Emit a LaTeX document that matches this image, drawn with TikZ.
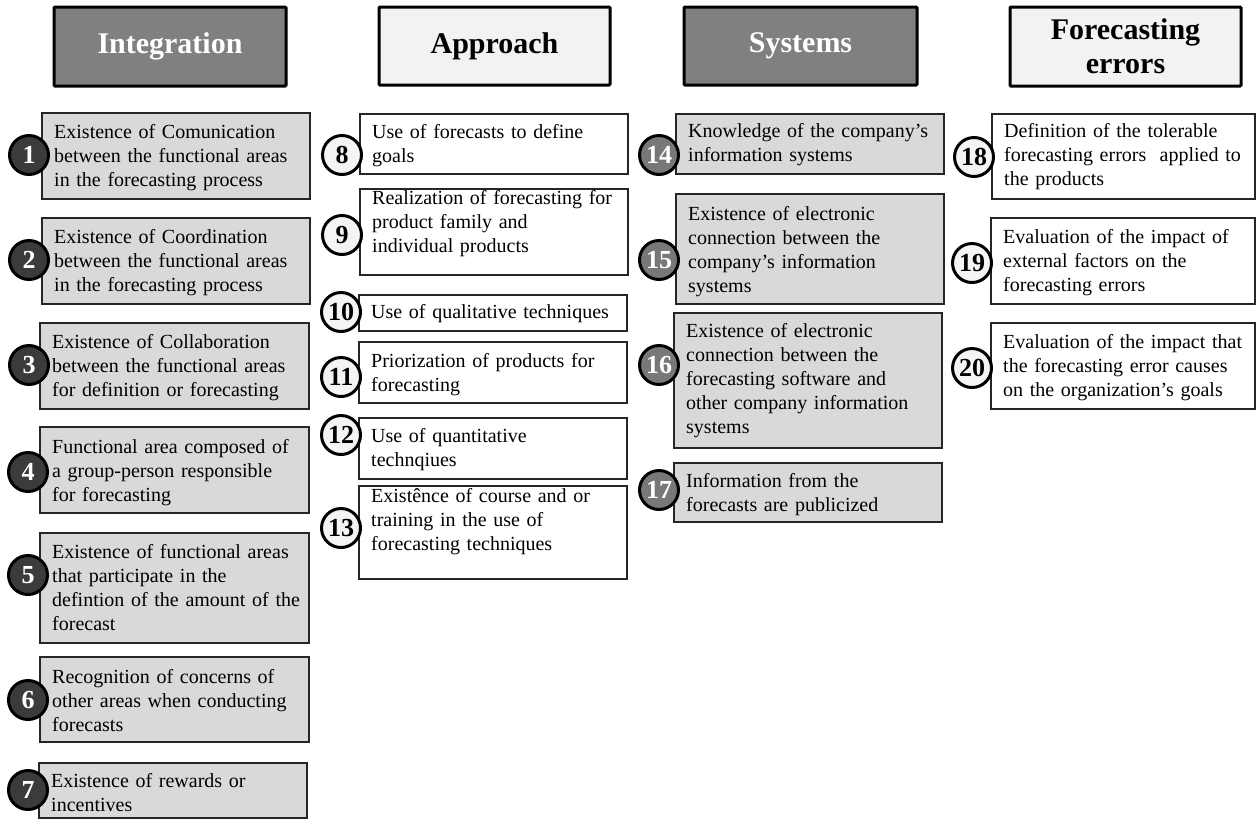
\documentclass[tikz,border=0pt]{standalone}
\usepackage{fontspec}
\setmainfont{Liberation Serif}
\definecolor{hdrdark}{HTML}{808080}
\definecolor{hdrlight}{HTML}{F2F2F2}
\definecolor{boxgray}{HTML}{D9D9D9}
\definecolor{numdark}{HTML}{3B3B3B}
\definecolor{nummid}{HTML}{787878}
\definecolor{numlight}{HTML}{F4F4F4}
\tikzset{
  header/.style={draw=black, line width=3pt, rounded corners=1pt,
    minimum height=78pt, minimum width=232pt, inner sep=0pt, align=center,
    font=\fontsize{30}{34}\selectfont\bfseries},
  hdrdarkbox/.style={header, fill=hdrdark, text=white},
  hdrlightbox/.style={header, fill=hdrlight, text=black},
  itembox/.style={draw=black!85, line width=1.1pt, inner sep=0pt, outer sep=0pt},
  itemtext/.style={inner sep=0pt, text width=255pt, align=left,
    font=\fontsize{20}{24}\selectfont},
  numcircle/.style={circle, draw=black, line width=3pt, minimum size=39pt,
    inner sep=0pt, font=\fontsize{26}{26}\selectfont\bfseries},
  cbox/.style={itembox, fill=white},
  cnum/.style={numcircle, fill=numlight, text=black}
}
% \entry{number}{x1}{y1}{x2}{y2}{first baseline}{circle x}{circle y}{text}
\newcommand\entry[9]{%
  \node[cbox, anchor=north west, minimum width={#4-#2}, minimum height={#5-#3}]
    (box#1) at (#2,#3) {};
  \node[itemtext, anchor=base west] (txt#1) at ({#2+12},#6) {#9};
  \node[cnum] (num#1) at (#7,#8) {#1};
}
\begin{document}
\begin{tikzpicture}[x=1pt, y=-1pt]
\useasboundingbox (0,0) rectangle (1257,820);

% column headers
\node[hdrdarkbox, minimum width=232pt, minimum height=79pt] (hInt) at (170,46.5) {Integration};
\node[hdrlightbox, minimum width=231pt] (hApp) at (494.5,46) {Approach};
\node[hdrdarkbox, minimum width=233pt] (hSys) at (800.5,46) {Systems};
\node[hdrlightbox, minimum width=231pt, minimum height=79pt] (hErr) at (1125.5,46.5) {Forecasting\\errors};

% integration
\begin{scope}[cbox/.style={itembox, fill=boxgray},
              cnum/.style={numcircle, fill=numdark, text=white}]
\entry{1}{42}{113}{310}{199}{138}{29}{155}{Existence of Comunication\\between the functional areas\\in the forecasting process}
\entry{2}{42}{218}{310}{304}{243}{29}{260}{Existence of Coordination\\between the functional areas\\in the forecasting process}
\entry{3}{40}{323}{309}{409}{348}{29}{365}{Existence of Collaboration\\between the functional areas\\for definition or forecasting}
\entry{4}{40}{427}{309}{513}{453}{28}{472}{Functional area composed of\\a group-person responsible\\for forecasting}
\entry{5}{40}{533}{309}{643}{558}{28}{575}{Existence of functional areas\\that participate in the\\defintion of the amount of the\\forecast}
\entry{6}{40}{657}{309}{742}{683}{28}{700}{Recognition of concerns of\\other areas when conducting\\forecasts}
\entry{7}{39}{763}{307}{818}{787}{28}{790}{Existence of rewards or\\incentives}
\end{scope}

% approach
\entry{8}{360}{114}{628}{174}{138}{342}{155}{Use of forecasts to define\\goals}
\entry{9}{360}{189}{628}{275}{204}{342}{235}{Realization of forecasting for\\product family and\\individual products}
\entry{10}{359}{295}{627}{331}{318}{341}{312}{Use of qualitative techniques}
\entry{11}{359}{342}{627}{403}{367}{341}{377}{Priorization of products for\\forecasting}
\entry{12}{359}{418}{627}{479}{442}{341}{435}{Use of quantitative\\technqiues}
\entry{13}{359}{486}{627}{579}{502}{341}{528}{Existênce of course and or\\training in the use of\\forecasting techniques}

% systems
\begin{scope}[cbox/.style={itembox, fill=boxgray},
              cnum/.style={numcircle, fill=nummid, text=white}]
\entry{14}{676}{114}{944}{174}{137}{659}{155}{Knowledge of the company's\\information systems}
\entry{15}{676}{194}{944}{304}{220}{659}{260}{Existence of electronic\\connection between the\\company's information\\systems}
\entry{16}{674}{313}{942}{448}{337}{659}{365}{Existence of electronic\\connection between the\\forecasting software and\\other company information\\systems}
\entry{17}{674}{463}{942}{522}{487}{659}{490}{Information from the\\forecasts are publicized}
\end{scope}

% forecasting errors
\entry{18}{992}{114}{1255}{199}{137}{974}{157}{Definition of the tolerable\\forecasting errors\ \ applied to\\the products}
\entry{19}{991}{218}{1255}{304}{243}{972}{263}{Evaluation of the impact of\\external factors on the\\forecasting errors}
\entry{20}{991}{323}{1255}{409}{348}{972}{368}{Evaluation of the impact that\\the forecasting error causes\\on the organization's goals}
\end{tikzpicture}
\end{document}
